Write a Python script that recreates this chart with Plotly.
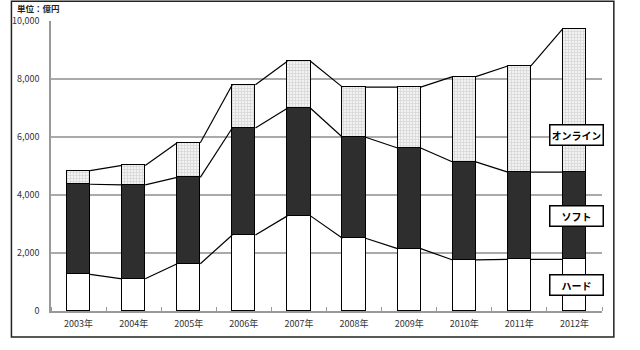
import plotly.graph_objects as go

years = ["2003年", "2004年", "2005年", "2006年", "2007年", "2008年", "2009年", "2010年", "2011年", "2012年"]
hard = [1260, 1110, 1630, 2620, 3280, 2510, 2150, 1760, 1780, 1780]
soft = [3110, 3240, 2980, 3690, 3710, 3480, 3470, 3380, 3010, 3010]
online = [470, 670, 1190, 1490, 1620, 1730, 2100, 2940, 3660, 4950]
legend_labels = ["ハード", "ソフト", "オンライン"]
y_ticks = [0, 2000, 4000, 6000, 8000, 10000]

FONT = "Noto Sans CJK JP"
n = len(years)
idx = list(range(n))
BW = 0.42

fig = go.Figure()
fig.add_trace(go.Bar(x=idx, y=hard, width=BW, marker=dict(color="white", line=dict(color="black", width=1.2)), name=legend_labels[0]))
fig.add_trace(go.Bar(x=idx, y=soft, width=BW, marker=dict(color="#2e2e2e", line=dict(color="black", width=1.2)), name=legend_labels[1]))
fig.add_trace(go.Bar(x=idx, y=online, width=BW,
                     marker=dict(color="white", line=dict(color="black", width=1.2),
                                 pattern=dict(shape="+", fgcolor="#bcbcbc", bgcolor="#f2f2f2", size=3, solidity=0.45)),
                     name=legend_labels[2]))

# connecting lines between bar edges
c1 = hard
c2 = [h + s for h, s in zip(hard, soft)]
c3 = [a + o for a, o in zip(c2, online)]
for lev in (c1, c2, c3):
    xs, ys = [], []
    for i in range(n - 1):
        xs += [i + BW / 2, i + 1 - BW / 2, None]
        ys += [lev[i], lev[i + 1], None]
    fig.add_trace(go.Scatter(x=xs, y=ys, mode="lines", line=dict(color="black", width=1.2), hoverinfo="skip"))

# legend boxes over last bar
box_y = [880, 3280, 6070]
for lab, yy in zip(legend_labels, box_y):
    fig.add_annotation(x=n - 1 + 0.03, y=yy, xref="x", yref="y", text="<b>" + lab + "</b>", showarrow=False,
                       font=dict(family=FONT, size=10, color="black"), bgcolor="white",
                       bordercolor="black", borderwidth=1.5, width=48, height=15, borderpad=2)

fig.add_annotation(x=-0.066, y=1.045, xref="paper", yref="paper", text="<b>単位：億円</b>", showarrow=False,
                   xanchor="left", yanchor="middle", font=dict(family=FONT, size=8.5, color="#222"))

# outer frame
fig.add_shape(type="rect", xref="paper", yref="paper", x0=-0.0718, x1=1.0215, y0=-0.0897, y1=1.068,
              line=dict(color="#222", width=1.5), fillcolor="rgba(0,0,0,0)", layer="below")

fig.update_layout(
    width=640, height=350, margin=dict(l=45, r=38, t=21, b=39),
    paper_bgcolor="white", plot_bgcolor="white", barmode="stack", showlegend=False, bargap=0,
    font=dict(family=FONT, size=9, color="#333"),
    xaxis=dict(range=[-0.5, n - 0.5], tickmode="array", tickvals=idx, ticktext=years, ticks="",
               showgrid=False, showline=True, linecolor="#999", linewidth=1.5, zeroline=False,
               tickfont=dict(size=9, color="#333"), ticklabelstandoff=3,
               minor=dict(tickmode="array", tickvals=[i - 0.5 for i in range(n + 1)], ticks="inside",
                          ticklen=4, tickcolor="#999", showgrid=False)),
    yaxis=dict(range=[0, 10000], tickmode="array", tickvals=y_ticks, ticktext=[f"{v:,}" for v in y_ticks],
               showgrid=True, gridcolor="#aaaaaa", gridwidth=1.5, showline=True, linecolor="#999", linewidth=1.5,
               zeroline=False, ticks="", ticklabelstandoff=8, tickfont=dict(size=9, color="#333")),
)

fig.write_html("out.html")
